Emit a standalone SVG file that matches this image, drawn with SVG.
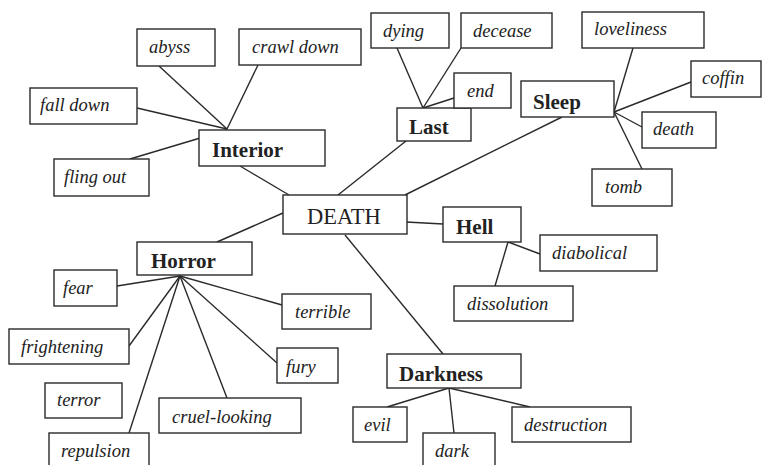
<svg xmlns="http://www.w3.org/2000/svg" width="762" height="465" viewBox="0 0 762 465">
<style>
rect{fill:#fff;stroke:#2a2a2a;stroke-width:1.4}
line{stroke:#2a2a2a;stroke-width:1.4}
text{font-family:"Liberation Serif","Times New Roman",serif;fill:#222}
.i{font-style:italic;font-size:18.5px}
.b{font-weight:bold;font-size:21px}
.c{font-size:22.5px}
</style>
<rect x="0" y="0" width="762" height="465" style="fill:#fff;stroke:none"/>
<g id="connectors">
<line x1="159" y1="66" x2="227" y2="129"/>
<line x1="258" y1="65" x2="227" y2="129"/>
<line x1="137" y1="108" x2="227" y2="129"/>
<line x1="130" y1="159" x2="227" y2="130"/>
<line x1="240" y1="166" x2="289" y2="195"/>
<line x1="338" y1="195" x2="406" y2="141"/>
<line x1="397" y1="48" x2="423" y2="108"/>
<line x1="461" y1="48" x2="423" y2="108"/>
<line x1="454" y1="98" x2="423" y2="108"/>
<line x1="562" y1="117" x2="405" y2="195"/>
<line x1="633" y1="48" x2="614" y2="112"/>
<line x1="691" y1="82" x2="614" y2="112"/>
<line x1="642" y1="127" x2="614" y2="112"/>
<line x1="642" y1="169" x2="614" y2="112"/>
<line x1="406" y1="222" x2="443" y2="224"/>
<line x1="540" y1="254" x2="508" y2="242"/>
<line x1="495" y1="286" x2="508" y2="242"/>
<line x1="345" y1="235" x2="443" y2="354"/>
<line x1="387" y1="407" x2="449" y2="388"/>
<line x1="454" y1="433" x2="449" y2="388"/>
<line x1="530" y1="407" x2="449" y2="388"/>
<line x1="217" y1="242" x2="283" y2="213"/>
<line x1="117" y1="286" x2="180" y2="276"/>
<line x1="129" y1="346" x2="180" y2="276"/>
<line x1="129" y1="433" x2="180" y2="276"/>
<line x1="227" y1="398" x2="180" y2="276"/>
<line x1="277" y1="363" x2="180" y2="276"/>
<line x1="282" y1="305" x2="180" y2="276"/>
</g>
<g id="death"><rect x="283" y="195" width="124" height="39"/><text class="c" x="307" y="224">DEATH</text></g>
<g id="interior"><rect x="199" y="130" width="126" height="36"/><text class="b" x="212" y="157">Interior</text></g>
<g id="abyss"><rect x="137" y="29" width="78" height="37"/><text class="i" x="149" y="53">abyss</text></g>
<g id="crawl-down"><rect x="239" y="29" width="122" height="36"/><text class="i" x="252" y="53">crawl down</text></g>
<g id="fall-down"><rect x="30" y="88" width="107" height="36"/><text class="i" x="40" y="111">fall down</text></g>
<g id="fling-out"><rect x="54" y="159" width="95" height="37"/><text class="i" x="64" y="183">fling out</text></g>
<g id="last"><rect x="397" y="108" width="74" height="33"/><text class="b" x="409" y="134">Last</text></g>
<g id="dying"><rect x="371" y="13" width="78" height="35"/><text class="i" x="383" y="37">dying</text></g>
<g id="decease"><rect x="461" y="13" width="91" height="35"/><text class="i" x="473" y="37">decease</text></g>
<g id="end"><rect x="454" y="73" width="57" height="35"/><text class="i" x="467" y="97">end</text></g>
<g id="sleep"><rect x="521" y="81" width="93" height="36"/><text class="b" x="533" y="109">Sleep</text></g>
<g id="loveliness"><rect x="582" y="12" width="122" height="36"/><text class="i" x="594" y="35">loveliness</text></g>
<g id="coffin"><rect x="691" y="61" width="70" height="36"/><text class="i" x="702" y="84">coffin</text></g>
<g id="death-word"><rect x="642" y="112" width="74" height="36"/><text class="i" x="653" y="135">death</text></g>
<g id="tomb"><rect x="592" y="169" width="80" height="37"/><text class="i" x="605" y="193">tomb</text></g>
<g id="hell"><rect x="443" y="207" width="78" height="35"/><text class="b" x="456" y="234">Hell</text></g>
<g id="diabolical"><rect x="540" y="235" width="117" height="36"/><text class="i" x="552" y="259">diabolical</text></g>
<g id="dissolution"><rect x="454" y="286" width="119" height="35"/><text class="i" x="467" y="310">dissolution</text></g>
<g id="darkness"><rect x="387" y="354" width="134" height="34"/><text class="b" x="399" y="381">Darkness</text></g>
<g id="evil"><rect x="353" y="407" width="54" height="35"/><text class="i" x="364" y="431">evil</text></g>
<g id="dark"><rect x="423" y="433" width="72" height="40"/><text class="i" x="435" y="457">dark</text></g>
<g id="destruction"><rect x="512" y="407" width="119" height="35"/><text class="i" x="524" y="431">destruction</text></g>
<g id="horror"><rect x="137" y="242" width="115" height="33"/><text class="b" x="151" y="268">Horror</text></g>
<g id="fear"><rect x="54" y="270" width="63" height="36"/><text class="i" x="63" y="294">fear</text></g>
<g id="frightening"><rect x="9" y="329" width="120" height="35"/><text class="i" x="21" y="353">frightening</text></g>
<g id="terror"><rect x="45" y="383" width="77" height="35"/><text class="i" x="57" y="406">terror</text></g>
<g id="cruel-looking"><rect x="159" y="398" width="142" height="35"/><text class="i" x="172" y="423">cruel-looking</text></g>
<g id="repulsion"><rect x="49" y="433" width="100" height="40"/><text class="i" x="61" y="457">repulsion</text></g>
<g id="terrible"><rect x="282" y="294" width="89" height="35"/><text class="i" x="295" y="318">terrible</text></g>
<g id="fury"><rect x="277" y="348" width="61" height="35"/><text class="i" x="286" y="373">fury</text></g>
</svg>
